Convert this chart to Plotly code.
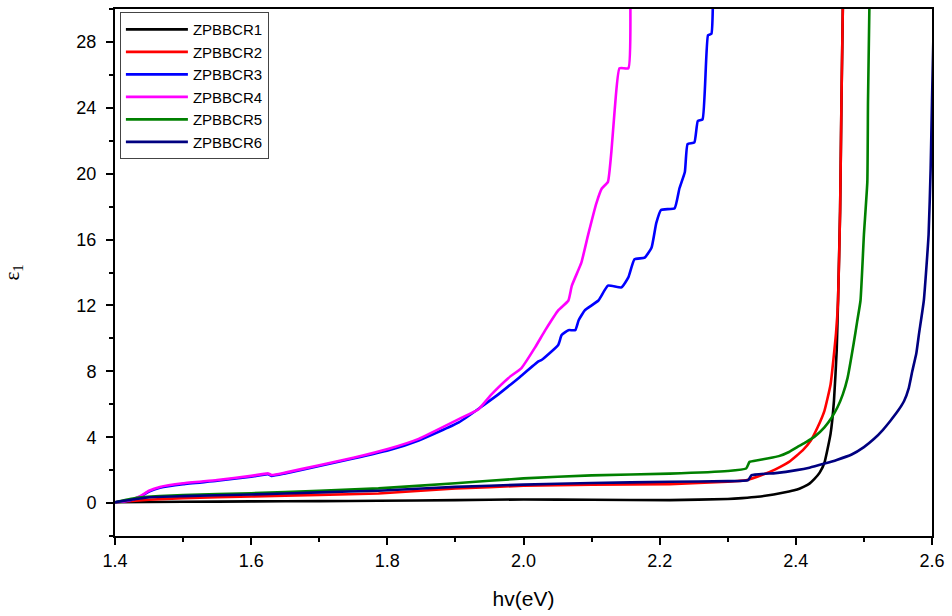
import plotly.graph_objects as go

# ---- data ----
x1 = [1.40, 1.50, 1.60, 1.70, 1.787, 1.90, 2.00, 2.10, 2.215, 2.30, 2.321, 2.344, 2.36, 2.375, 2.39, 2.402, 2.412, 2.420, 2.427, 2.435, 2.442, 2.451, 2.456, 2.460, 2.462, 2.465, 2.467, 2.469]
y1 = [0.05, 0.08, 0.10, 0.12, 0.14, 0.18, 0.22, 0.20, 0.18, 0.25, 0.30, 0.38, 0.47, 0.58, 0.70, 0.82, 1.00, 1.18, 1.45, 1.85, 2.45, 4.2, 6.2, 9.25, 12.3, 17.7, 24.4, 30.0]

x2 = [1.40, 1.45, 1.50, 1.60, 1.70, 1.787, 1.90, 2.00, 2.10, 2.215, 2.30, 2.327, 2.35, 2.37, 2.39, 2.41, 2.422, 2.432, 2.442, 2.451, 2.459, 2.462, 2.465, 2.467, 2.469]
y2 = [0.05, 0.20, 0.30, 0.40, 0.50, 0.58, 0.88, 1.05, 1.12, 1.15, 1.30, 1.39, 1.70, 2.05, 2.50, 3.20, 3.80, 4.60, 5.60, 7.2, 10.3, 12.3, 17.7, 24.4, 30.0]

x3 = [1.40, 1.42, 1.437, 1.45, 1.466, 1.50, 1.55, 1.60, 1.625, 1.63, 1.65, 1.70, 1.75, 1.802, 1.846, 1.905, 1.963, 1.993, 2.022, 2.027, 2.051, 2.056, 2.066, 2.076, 2.081, 2.090, 2.110, 2.124, 2.144, 2.154, 2.163, 2.178, 2.188, 2.195, 2.202, 2.222, 2.229, 2.237, 2.241, 2.251, 2.256, 2.263, 2.271, 2.276, 2.278]
y3 = [0.05, 0.14, 0.38, 0.70, 0.93, 1.15, 1.35, 1.60, 1.75, 1.65, 1.80, 2.25, 2.70, 3.20, 3.80, 4.90, 6.60, 7.60, 8.60, 8.70, 9.60, 10.2, 10.5, 10.5, 11.1, 11.7, 12.3, 13.2, 13.1, 13.7, 14.8, 14.9, 15.5, 17.0, 17.8, 17.9, 19.1, 20.1, 21.8, 21.9, 23.2, 23.3, 28.4, 28.5, 30.0]

x4 = [1.40, 1.42, 1.437, 1.45, 1.466, 1.50, 1.55, 1.60, 1.625, 1.63, 1.65, 1.70, 1.75, 1.802, 1.846, 1.905, 1.934, 1.953, 1.978, 1.997, 2.017, 2.032, 2.051, 2.066, 2.071, 2.085, 2.095, 2.107, 2.115, 2.124, 2.129, 2.134, 2.141, 2.154, 2.157]
y4 = [0.05, 0.15, 0.42, 0.75, 0.98, 1.20, 1.40, 1.65, 1.80, 1.70, 1.85, 2.30, 2.75, 3.30, 3.90, 5.10, 5.70, 6.60, 7.60, 8.20, 9.45, 10.5, 11.7, 12.3, 13.2, 14.6, 16.3, 18.2, 19.1, 19.5, 21.3, 23.9, 26.4, 26.4, 30.0]

x5 = [1.40, 1.43, 1.466, 1.50, 1.60, 1.70, 1.787, 1.90, 2.00, 2.10, 2.215, 2.30, 2.327, 2.332, 2.344, 2.36, 2.375, 2.39, 2.402, 2.415, 2.428, 2.442, 2.452, 2.461, 2.469, 2.476, 2.485, 2.490, 2.495, 2.500, 2.505, 2.506, 2.508]
y5 = [0.05, 0.30, 0.42, 0.48, 0.60, 0.75, 0.89, 1.20, 1.50, 1.68, 1.79, 1.95, 2.10, 2.50, 2.60, 2.72, 2.85, 3.10, 3.40, 3.70, 4.05, 4.60, 5.15, 5.80, 6.60, 7.60, 9.70, 11.0, 12.3, 16.3, 19.5, 24.4, 30.0]

x6 = [1.40, 1.45, 1.50, 1.60, 1.70, 1.787, 1.90, 2.00, 2.10, 2.215, 2.30, 2.330, 2.335, 2.37, 2.401, 2.42, 2.442, 2.46, 2.482, 2.50, 2.515, 2.528, 2.539, 2.550, 2.559, 2.566, 2.571, 2.577, 2.581, 2.588, 2.595, 2.598, 2.600, 2.604]
y6 = [0.05, 0.35, 0.42, 0.52, 0.65, 0.75, 0.98, 1.12, 1.22, 1.29, 1.33, 1.39, 1.69, 1.82, 2.00, 2.15, 2.40, 2.62, 2.95, 3.40, 3.90, 4.45, 5.00, 5.60, 6.20, 7.00, 8.00, 9.10, 10.3, 12.3, 16.3, 20.3, 24.4, 32.0]

names = ["ZPBBCR1", "ZPBBCR2", "ZPBBCR3", "ZPBBCR4", "ZPBBCR5", "ZPBBCR6"]
colors = ["#000000", "#FF0000", "#0000FF", "#FF00FF", "#008000", "#000080"]

xs = [x1, x2, x3, x4, x5, x6]
ys = [y1, y2, y3, y4, y5, y6]

x_ticks = [1.4, 1.6, 1.8, 2.0, 2.2, 2.4, 2.6]
y_ticks = [0, 4, 8, 12, 16, 20, 24, 28]

fig = go.Figure()
for xv, yv, n, c in zip(xs, ys, names, colors):
    fig.add_trace(go.Scatter(x=xv, y=yv, mode="lines", name=n,
                             line=dict(color=c, width=2.6, shape="spline", smoothing=0.4)))

axis_font = dict(family="Liberation Sans, Arial, sans-serif", size=18, color="black")

fig.update_layout(
    width=952, height=616,
    margin=dict(l=115, r=17, t=7, b=80),
    paper_bgcolor="white", plot_bgcolor="white",
    showlegend=True,
    legend=dict(x=0.006, y=0.994, xanchor="left", yanchor="top",
                bgcolor="white", bordercolor="#444444", borderwidth=1,
                font=dict(family="Liberation Sans, Arial, sans-serif", size=15, color="black"),
                tracegroupgap=0, itemwidth=62),
    xaxis=dict(range=[1.4, 2.6], tickvals=x_ticks, ticktext=[f"{v:.1f}" for v in x_ticks],
               ticks="outside", ticklen=7, tickwidth=2, tickcolor="black",
               showline=True, linecolor="black", linewidth=2, mirror=True,
               showgrid=False, zeroline=False, tickfont=axis_font,
               minor=dict(dtick=0.1, tick0=1.4, ticks="outside", ticklen=4, tickwidth=2, tickcolor="black", showgrid=False),
               title=dict(text="hv(eV)", font=dict(family="Liberation Sans, Arial, sans-serif", size=21, color="black"), standoff=22)),
    yaxis=dict(range=[-2, 30], tickvals=y_ticks, ticktext=[str(v) for v in y_ticks],
               ticks="outside", ticklen=7, tickwidth=2, tickcolor="black",
               showline=True, linecolor="black", linewidth=2, mirror=True,
               showgrid=False, zeroline=False, tickfont=axis_font, ticklabelstandoff=6,
               minor=dict(dtick=2, tick0=0, ticks="outside", ticklen=4, tickwidth=2, tickcolor="black", showgrid=False),
               title=dict(text="ε<sub>1</sub>", font=dict(family="Liberation Serif, Times New Roman, serif", size=21, color="black"), standoff=55)),
)

fig.write_html("out.html")
